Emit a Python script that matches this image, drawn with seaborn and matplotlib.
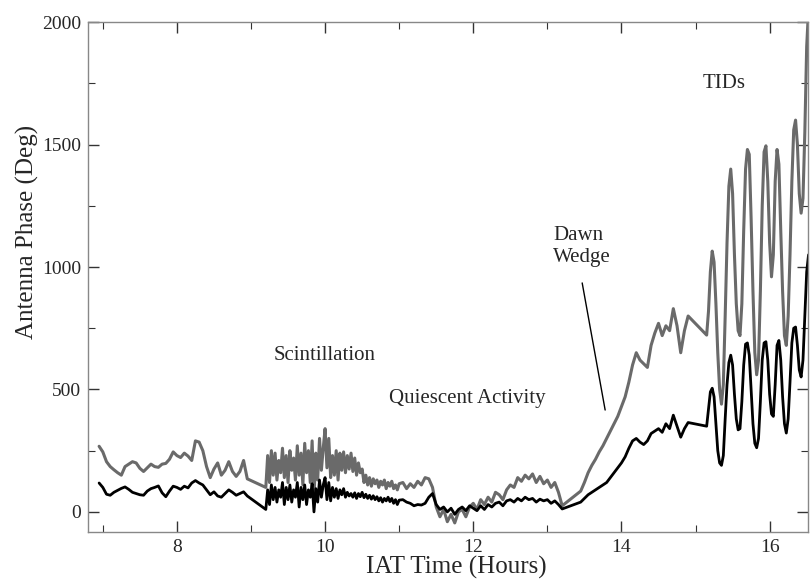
import numpy as np
import pandas as pd
import matplotlib
matplotlib.use("Agg")
import matplotlib.pyplot as plt
import seaborn as sns

# ---------------------------------------------------------------
# Antenna phase vs IAT time: two antennas (gray / black)
# Sample times per segment (hours); straight lines across data gaps
# ---------------------------------------------------------------
seg_a = np.round(np.arange(6.95, 8.951, 0.05), 3)     # pre-scintillation
seg_b = np.round(np.arange(9.20, 11.001, 0.025), 3)   # scintillation
seg_c = np.round(np.arange(11.05, 13.201, 0.05), 3)   # quiescent
seg_d = np.round(np.arange(13.45, 14.901, 0.05), 3)   # dawn wedge
seg_e = np.round(np.arange(15.15, 16.526, 0.025), 3)  # TIDs
hours = np.concatenate([seg_a, seg_b, seg_c, seg_d, seg_e])

gray_a = [268, 245, 205, 185, 172, 160, 150, 185, 195, 205, 200, 178, 165, 180,
          195, 185, 182, 195, 198, 215, 245, 230, 222, 240, 228, 210, 290, 285,
          250, 185, 140, 175, 200, 150, 170, 205, 165, 145, 165, 210, 135]
black_a = [118, 100, 72, 68, 80, 88, 96, 102, 92, 80, 75, 70, 68, 85, 95, 100,
           106, 78, 62, 85, 105, 100, 92, 105, 98, 118, 128, 118, 110, 90, 70,
           82, 65, 60, 75, 90, 80, 68, 75, 82, 65]

gray_b = [100, 230, 120, 250, 150, 240, 130, 210, 160, 260, 140, 230, 120, 250,
          170, 220, 130, 270, 150, 240, 110, 280, 160, 250, 120, 290, 60, 240,
          130, 300, 170, 260, 340, 180, 300, 140, 230, 150, 250, 130, 240, 170,
          245, 160, 230, 175, 240, 165, 220, 150, 200, 160, 175, 120, 150, 110,
          140, 105, 135, 115, 130, 100, 125, 110, 130, 95, 120, 105, 125, 95,
          110, 90, 115]
black_b = [10, 90, 30, 110, 50, 100, 40, 90, 60, 120, 30, 100, 50, 110, 40, 90,
           60, 120, 20, 100, 50, 110, 30, 90, 60, 115, 0, 95, 40, 130, 60, 110,
           140, 50, 120, 45, 100, 60, 95, 55, 90, 70, 95, 60, 80, 65, 75, 60, 78,
           55, 75, 62, 80, 58, 72, 55, 68, 52, 66, 50, 62, 45, 58, 40, 55, 45,
           60, 42, 55, 35, 50, 30, 48]

gray_c = [120, 95, 115, 100, 125, 110, 140, 135, 100, 20, -20, 10, -40, -10,
          -45, 0, 10, -20, 20, 35, 10, 50, 30, 60, 40, 80, 70, 50, 90, 110, 100,
          140, 125, 150, 135, 155, 120, 145, 115, 130, 100, 120, 80, 25]
black_c = [50, 40, 35, 25, 30, 28, 35, 60, 75, 30, 10, 20, 0, 15, -10, 10, 20,
           5, 25, 15, 5, 25, 10, 30, 20, 35, 40, 25, 45, 50, 40, 55, 45, 60, 50,
           55, 40, 52, 45, 50, 35, 45, 30, 12]

gray_d = [85, 120, 160, 190, 215, 245, 270, 300, 330, 360, 390, 430, 470, 530,
          600, 650, 620, 605, 590, 680, 730, 770, 720, 760, 740, 830, 760, 650,
          740, 800]
black_d = [40, 55, 70, 80, 90, 100, 110, 120, 140, 160, 180, 200, 225, 260, 290,
           300, 285, 275, 290, 320, 330, 340, 325, 360, 340, 395, 350, 305, 340,
           365]

gray_e = [722, 820, 980, 1065, 1020, 850, 650, 500, 440, 520, 800, 1100, 1330,
          1400, 1300, 1050, 850, 740, 720, 850, 1150, 1400, 1480, 1460, 1200,
          900, 650, 560, 620, 900, 1250, 1470, 1495, 1350, 1100, 960, 1050,
          1350, 1480, 1420, 1150, 900, 720, 680, 800, 1050, 1350, 1560, 1600,
          1500, 1300, 1220, 1280, 1550, 1900, 2050]
black_e = [350, 420, 490, 505, 470, 360, 250, 200, 190, 230, 380, 520, 610, 640,
           600, 480, 380, 335, 340, 450, 600, 685, 690, 640, 500, 360, 280, 262,
           300, 450, 620, 690, 695, 620, 480, 400, 390, 520, 680, 700, 620, 470,
           360, 322, 380, 530, 690, 750, 755, 680, 580, 551, 620, 800, 980, 1050]

gray_phase = gray_a + gray_b + gray_c + gray_d + gray_e
black_phase = black_a + black_b + black_c + black_d + black_e

df = pd.DataFrame({"hours": hours, "gray": gray_phase, "black": black_phase})

sns.set_style("ticks")
plt.rcParams["font.family"] = ["Liberation Serif", "DejaVu Serif"]

fig = plt.figure(figsize=(8.11, 5.80), dpi=100)
ax = fig.add_axes([0.1085, 0.0828, 0.888, 0.879])

sns.lineplot(data=df, x="hours", y="gray", ax=ax, color="#6a6a6a", lw=2.2,
             estimator=None, sort=False)
sns.lineplot(data=df, x="hours", y="black", ax=ax, color="black", lw=2.0,
             estimator=None, sort=False)

ax.set_xlim(6.8, 16.52)
ax.set_ylim(-82, 2000)
ax.set_xticks([8, 10, 12, 14, 16])
ax.set_xticks([7, 9, 11, 13, 15], minor=True)
ax.set_yticks([0, 500, 1000, 1500, 2000])
ax.set_yticks([250, 750, 1250, 1750], minor=True)
ax.tick_params(which="both", direction="in", top=True, right=True,
               labelsize=14, color="#333333")
ax.tick_params(which="major", length=8, width=1.0, pad=5)
ax.tick_params(which="minor", length=5, width=0.8)
for sp in ax.spines.values():
    sp.set_color("#888888")
    sp.set_linewidth(1.0)

ax.set_xlabel("IAT Time (Hours)", fontsize=18)
ax.set_ylabel("Antenna Phase (Deg)", fontsize=18)
ax.xaxis.set_label_coords(0.511, -0.047)
ax.yaxis.set_label_coords(-0.068, 0.588)

# annotations
ax.text(10.0, 637, "Scintillation", fontsize=15, ha="center", va="center")
ax.text(11.92, 465, "Quiescent Activity", fontsize=15, ha="center", va="center")
ax.text(13.08, 1127, "Dawn", fontsize=15, ha="left", va="center")
ax.text(13.08, 1037, "Wedge", fontsize=15, ha="left", va="center")
ax.plot([13.47, 13.78], [935, 416], color="black", lw=1.0)
ax.text(15.38, 1751, "TIDs", fontsize=15, ha="center", va="center")

fig.savefig("out.png", dpi=100)
